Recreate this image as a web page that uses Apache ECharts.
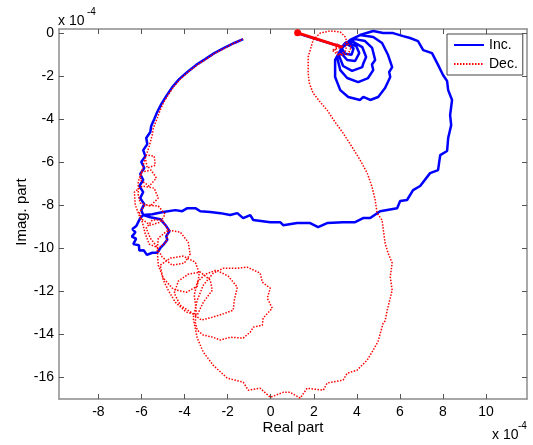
<!DOCTYPE html>
<html>
<head>
<meta charset="utf-8">
<script src="https://cdn.jsdelivr.net/npm/echarts@6/dist/echarts.min.js"></script>
<style>html,body{margin:0;padding:0;background:#fff;}#c{width:533px;height:445px;}</style>
</head>
<body>
<div id="c"></div>
<script>
// tick labels (units of 1e-4)
const xTicks = [-8, -6, -4, -2, 0, 2, 4, 6, 8, 10];
const yTicks = [-16, -14, -12, -10, -8, -6, -4, -2, 0];

// Inc. (blue) path pieces, [real, imag] in units of 1e-4
const incSpiral = [[1.40,-0.05],[2.30,-0.33],[3.32,-0.64],
 [3.55,-0.50],[3.85,-0.70],[3.75,-1.00],[3.45,-0.95],[3.30,-0.70],
 [3.55,-0.45],[3.97,-0.59],[4.11,-0.92],[3.92,-1.29],[3.55,-1.24],[3.27,-0.92],[3.32,-0.64],
 [3.41,-0.50],[3.83,-0.40],[4.25,-0.64],[4.43,-1.10],[4.30,-1.40],[4.25,-1.57],[3.78,-1.75],[3.36,-1.52],[3.18,-1.06],[3.32,-0.64],
 [3.46,-0.45],[3.92,-0.27],[4.38,-0.36],[4.71,-0.68],[4.85,-1.24],[4.70,-1.45],[4.76,-1.71],[4.52,-2.08],[4.06,-2.27],[3.55,-2.08],[3.23,-1.71],[3.09,-1.15],[3.32,-0.64],
 [3.69,-0.31],[4.15,-0.08],[4.76,-0.17],[5.17,-0.45],[5.45,-1.01],[5.64,-1.57],[5.50,-1.80],[5.55,-2.03],[5.31,-2.54],[4.99,-2.96],[4.62,-3.10],[4.30,-2.95],[4.15,-3.10],[3.60,-2.96],[3.23,-2.64],[2.99,-2.03],[2.99,-1.24],[3.32,-0.64]];
const incBigLoop = [[3.69,-0.31],[4.15,-0.08],[4.76,0.11],[5.22,0.01],[5.68,0.01],[6.15,-0.13],[6.47,-0.22],[6.84,-0.36],[7.08,-0.78],[7.49,-0.92],[7.77,-1.47],[8.00,-1.94],[8.19,-2.22],[8.24,-2.64],[8.42,-3.10],[8.33,-3.80],[8.38,-4.27],[8.24,-4.87],[8.19,-5.47],[7.87,-5.66],[7.77,-6.36],[7.40,-6.50],[6.94,-7.10],[6.61,-7.29],[6.33,-7.75],[6.01,-7.80],[5.87,-8.13],[5.08,-8.27],[4.62,-8.59],[4.29,-8.59],[3.92,-8.78],[3.36,-8.78],[2.62,-8.82],[2.20,-9.01],[1.83,-8.82],[1.23,-8.82],[0.58,-8.92],[0.44,-8.78],[-0.02,-8.78],[-0.81,-8.68],[-0.95,-8.45],[-1.28,-8.59],[-1.55,-8.36],[-1.88,-8.45],[-2.34,-8.36],[-2.81,-8.31],[-3.27,-8.27],[-3.50,-8.13],[-3.87,-8.13],[-4.11,-8.27],[-4.43,-8.22],[-4.99,-8.31],[-5.50,-8.41]];
const incLoop = [[-5.92,-8.45],[-6.06,-8.59],[-6.24,-8.96],[-6.42,-9.10],[-6.28,-9.25],[-6.45,-9.45],[-6.25,-9.55],[-6.38,-9.80],[-6.12,-9.85],[-6.10,-10.10],[-5.90,-10.08],[-5.75,-10.30],[-5.50,-10.20],[-5.27,-10.20],[-5.10,-9.95],[-4.99,-9.84],[-4.80,-9.60],[-4.85,-9.43],[-4.70,-9.20],[-4.85,-8.96],[-5.13,-8.64],[-5.59,-8.55],[-5.92,-8.45],[-6.01,-8.22]];
const incArc = [[-5.87,-7.94],[-6.06,-7.66],[-5.92,-7.38],[-6.10,-7.10],[-5.92,-6.82],[-6.06,-6.54],[-5.87,-6.26],[-6.01,-5.98],[-5.82,-5.71],[-5.92,-5.43],[-5.73,-5.15],[-5.78,-4.87],[-5.59,-4.59],[-5.55,-4.31],[-5.41,-3.99],[-5.27,-3.66],[-5.08,-3.29],[-4.85,-2.92],[-4.57,-2.50],[-4.25,-2.13],[-3.87,-1.80],[-3.46,-1.47],[-3.04,-1.20],[-2.62,-0.92],[-2.16,-0.68],[-1.69,-0.45],[-1.28,-0.27]];

// Dec. (red) path pieces
const decStart = [[1.25,0.02],[3.32,-0.64]];
const decSpiral = [[3.32,-0.64],[3.50,-0.40],[3.74,-0.64],[3.60,-0.96],[3.23,-1.01],[2.99,-0.78],[3.09,-0.50],[3.32,-0.64],
 [2.85,-0.78],[3.13,-1.01],[3.46,-0.87],[3.55,-0.45],[3.46,-0.17],[3.23,0.06],[2.76,0.11],[2.30,0.01],[1.97,-0.31],[1.74,-1.10],
 [1.74,-1.85],[1.79,-2.31],[1.97,-2.78],[2.30,-3.20],[2.62,-3.57],[2.99,-4.13],[3.36,-4.64],[3.78,-5.29],[4.15,-5.89],[4.48,-6.50],[4.71,-7.15],[4.85,-7.75],[4.94,-8.36]];
const decOuter = [[5.17,-8.68],[5.31,-9.75],[5.45,-10.22],[5.64,-10.68],[5.55,-11.33],[5.64,-11.94],[5.41,-12.87],[5.31,-13.37],[5.22,-13.47],[4.99,-14.31],[4.76,-14.73],[4.48,-15.19],[4.01,-15.66],[3.55,-15.80],[3.36,-16.12],[2.62,-16.26],[2.44,-16.59],[1.69,-16.50],[1.37,-16.96],[0.90,-16.69],[0.58,-16.69],[-0.02,-16.92],[-0.49,-16.50],[-1.04,-16.59],[-1.28,-16.22],[-2.02,-16.03],[-2.67,-15.43],[-3.13,-14.82],[-3.41,-14.17],[-3.60,-13.24]];
const decLoops = [
 [-3.41,-12.40],[-3.13,-11.71],[-2.67,-11.15],[-2.20,-10.92],[-1.55,-10.92],[-1.09,-10.87],[-0.49,-11.15],[-0.39,-11.57],[-0.02,-11.85],[-0.16,-12.31],[0.07,-12.78],[-0.35,-13.24],[-0.39,-13.57],[-0.81,-13.66],[-0.95,-13.89],[-1.28,-14.17],[-1.88,-14.13],[-2.34,-14.26],[-2.67,-14.13],[-3.13,-14.03],[-3.41,-13.80],[-3.50,-13.43],
 [-3.46,-12.87],[-3.55,-12.17],[-3.41,-11.57],[-3.04,-11.20],[-2.53,-11.01],[-1.97,-11.29],[-1.55,-11.80],[-1.69,-12.40],[-1.74,-12.87],[-2.25,-13.06],[-2.71,-13.20],[-3.22,-13.33],[-3.64,-13.01],
 [-4.20,-12.64],[-4.48,-12.08],[-4.29,-11.52],[-3.83,-11.20],[-3.27,-11.10],[-2.81,-11.47],[-2.71,-11.94],[-3.13,-12.50],[-3.41,-13.10],[-3.92,-12.96],[-4.43,-12.50],[-4.76,-11.94],
 [-4.99,-11.47],[-5.13,-10.78],[-4.66,-10.45],[-4.06,-10.36],[-3.50,-10.64],[-3.32,-11.15],[-3.41,-11.76],[-3.92,-12.04],[-4.52,-11.90],[-4.99,-11.38],[-5.22,-10.78],
 [-5.27,-10.08],[-5.22,-9.52],[-4.76,-9.15],[-4.20,-9.24],[-3.83,-9.71],[-3.74,-10.26],[-4.01,-10.68],[-4.57,-10.78],[-5.04,-10.40],[-5.31,-9.89],
 [-5.59,-9.52],[-5.78,-9.06],[-5.50,-8.68],[-5.04,-8.68],[-4.76,-9.15],[-4.85,-9.71],[-5.22,-9.98],[-5.64,-9.80],[-5.82,-9.34],
 [-5.96,-8.78],[-6.10,-8.31],[-5.82,-7.98],[-5.22,-8.03],[-4.90,-8.41],[-5.13,-8.78],[-5.59,-8.92],[-6.06,-8.59],
 [-6.29,-7.98],[-6.33,-7.38],[-5.96,-7.10],[-5.41,-7.20],[-5.22,-7.66],[-5.59,-8.03],[-6.06,-7.89],[-6.15,-7.52],
 [-6.15,-6.92],[-6.01,-6.45],[-5.55,-6.36],[-5.31,-6.73],[-5.64,-7.10],[-6.06,-6.82],
 [-5.92,-6.13],[-5.78,-5.66],[-5.41,-5.71],[-5.36,-6.13],[-5.73,-6.26],[-5.82,-5.80]];
const decArc = [[-5.64,-5.24],[-5.50,-4.73],[-5.45,-4.41],[-5.27,-3.94],[-5.13,-3.57],[-4.99,-3.24],[-4.76,-2.87],[-4.52,-2.50],[-4.20,-2.13],[-3.83,-1.80],[-3.41,-1.47],[-2.99,-1.20],[-2.58,-0.92],[-2.11,-0.68],[-1.69,-0.45],[-1.28,-0.27]];

const incData = [].concat(incSpiral, incBigLoop, incLoop, incArc);
const decData = [].concat(decSpiral, decOuter, decLoops, decArc);

const FONT = 'Liberation Sans, Arial, sans-serif';
const axisColor = '#8c8c8c';
const xRange = {min: -9.83, max: 11.9};
const yRange = {min: -17.0, max: 0.2};

function xAxisCfg(pos, labels) {
  return {
    type: 'value', position: pos, min: xRange.min, max: xRange.max,
    axisLine: {show: true, onZero: false, lineStyle: {color: axisColor, width: 1.5}},
    axisTick: {show: true, inside: true, length: 5, customValues: xTicks, lineStyle: {color: '#555', width: 1}},
    axisLabel: {show: labels, customValues: xTicks, margin: 6, fontSize: 14, color: '#000', fontFamily: FONT},
    splitLine: {show: false}
  };
}
function yAxisCfg(pos, labels) {
  return {
    type: 'value', position: pos, min: yRange.min, max: yRange.max,
    axisLine: {show: true, onZero: false, lineStyle: {color: axisColor, width: 1.5}},
    axisTick: {show: true, inside: true, length: 5, customValues: yTicks, lineStyle: {color: '#555', width: 1}},
    axisLabel: {show: labels, customValues: yTicks, margin: 5, fontSize: 14, color: '#000', fontFamily: FONT},
    splitLine: {show: false}
  };
}

const chart = echarts.init(document.getElementById('c'), null, {renderer: 'canvas'});
chart.setOption({
  animation: false,
  backgroundColor: '#fff',
  grid: {left: 59, right: 6, top: 29, bottom: 46, containLabel: false},
  xAxis: [xAxisCfg('bottom', true), xAxisCfg('top', false)],
  yAxis: [yAxisCfg('left', true), yAxisCfg('right', false)],
  legend: {
    data: ['Inc.', 'Dec.'], orient: 'vertical', left: 447, top: 34,
    backgroundColor: '#fff', borderColor: '#444', borderWidth: 1, borderRadius: 0,
    padding: [4, 5, 4, 6], itemGap: 5, itemWidth: 30, itemHeight: 12,
    itemStyle: {opacity: 0},
    textStyle: {fontSize: 14, color: '#000', fontFamily: FONT}
  },
  series: [
    {name: 'Inc.', type: 'line', data: incData, symbol: 'none', xAxisIndex: 0, yAxisIndex: 0,
     lineStyle: {color: '#0000ff', width: 2.5}, itemStyle: {color: '#0000ff'}, z: 2},
    {name: 'Dec.', type: 'line', data: decData, symbol: 'none', xAxisIndex: 0, yAxisIndex: 0,
     lineStyle: {color: '#ff0000', width: 1.5, type: [1.5, 1.5]}, itemStyle: {color: '#ff0000'}, z: 3},
    {name: 'Dec. start', type: 'line', data: decStart, xAxisIndex: 0, yAxisIndex: 0,
     symbol: function (v, p) { return p.dataIndex === 0 ? 'circle' : 'none'; }, symbolSize: 7, showSymbol: true,
     lineStyle: {color: '#ff0000', width: 3}, itemStyle: {color: '#ff0000'}, z: 4}
  ],
  graphic: [
    {type: 'text', left: 58, top: 14, style: {text: 'x 10', fill: '#000', font: '14px ' + FONT}},
    {type: 'text', left: 87, top: 7, style: {text: '-4', fill: '#000', font: '10px ' + FONT}},
    {type: 'text', left: 492, top: 428, style: {text: 'x 10', fill: '#000', font: '14px ' + FONT}},
    {type: 'text', left: 518, top: 421, style: {text: '-4', fill: '#000', font: '10px ' + FONT}},
    {type: 'text', x: 293, y: 428, style: {text: 'Real part', fill: '#000', font: '15px ' + FONT, align: 'center', verticalAlign: 'middle'}},
    {type: 'text', x: 22, y: 212, rotation: Math.PI / 2, style: {text: 'Imag. part', fill: '#000', font: '15px ' + FONT, align: 'center', verticalAlign: 'middle'}}
  ]
});
</script>
</body>
</html>
